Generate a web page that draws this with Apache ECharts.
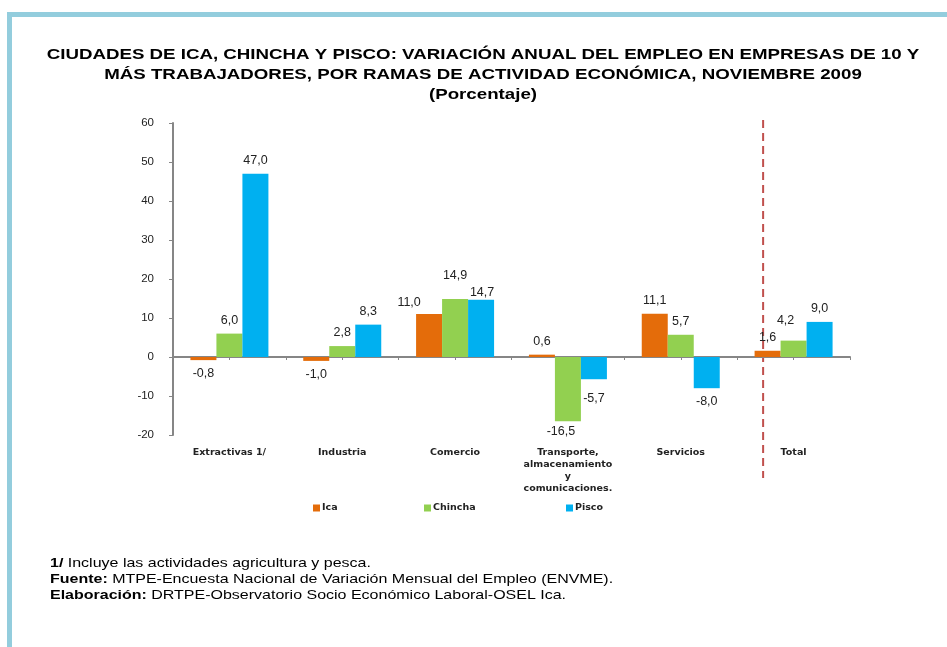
<!DOCTYPE html>
<html>
<head>
<meta charset="utf-8">
<script src="https://cdn.jsdelivr.net/npm/echarts@6/dist/echarts.min.js"></script>
<style>
  html, body { margin: 0; padding: 0; background: #fff; }
  #empleo-chart { width: 947px; height: 647px; }
</style>
</head>
<body>
<div id="empleo-chart"></div>
<script>
// data
const categories = ['Extractivas 1/', 'Industria', 'Comercio',
  'Transporte,\nalmacenamiento\ny\ncomunicaciones.', 'Servicios', 'Total'];
const icaValues = [-0.8, -1.0, 11.0, 0.6, 11.1, 1.6];
const chinchaValues = [6.0, 2.8, 14.9, -16.5, 5.7, 4.2];
const piscoValues = [47.0, 8.3, 14.7, -5.7, -8.0, 9.0];
const yTicks = { min: -20, max: 60, step: 10 };
const totalDivider = 5.23; // position of the dashed separator, in category units

// label nudges copied from the original layout (Excel placed a few by hand)
const labelNudge = {
  Ica: { 2: [-20, 2] },
  Chincha: { 2: [0, -10], 3: [-7, -3], 5: [-8, -7] },
  Pisco: { 2: [1, 6], 3: [0, 6] }
};

const colors = { Ica: '#E46C0A', Chincha: '#92D050', Pisco: '#00B0F0' };
const axisGray = '#868686';
const smallFont = 'DejaVu Sans, Verdana, sans-serif';

const chartDom = document.getElementById('empleo-chart');
const myChart = echarts.init(chartDom);

function buildSeries(name, values) {
  return {
    name: name,
    type: 'bar',
    xAxisIndex: 0,
    barWidth: 26,
    barGap: 0,
    itemStyle: { color: colors[name] },
    data: values.map(function (v, i) {
      const nudge = (labelNudge[name] || {})[i];
      return {
        value: v,
        label: {
          position: v < 0 ? 'bottom' : 'top',
          offset: nudge || [0, 0]
        }
      };
    }),
    label: {
      show: true,
      distance: 7,
      color: '#222',
      fontSize: 12.5,
      fontFamily: 'Liberation Sans, Arial, sans-serif',
      formatter: function (p) {
        return p.value.toFixed(1).replace('.', ',');
      }
    }
  };
}

function legendAt(name, left) {
  return {
    data: [name],
    left: left,
    top: 503,
    padding: 0,
    icon: 'rect',
    itemWidth: 7,
    itemHeight: 7,
    textStyle: {
      fontSize: 9.5,
      fontWeight: 'bold',
      color: '#222',
      fontFamily: smallFont,
      padding: [0, 0, 0, -3]
    }
  };
}

const option = {
  animation: false,
  textStyle: { fontFamily: 'Liberation Sans, Arial, sans-serif' },
  grid: { left: 173, right: 97, top: 123, bottom: 212, containLabel: false },
  legend: [
    legendAt('Ica', 313),
    legendAt('Chincha', 424),
    legendAt('Pisco', 566)
  ],
  xAxis: [
    {
      type: 'category',
      data: categories,
      position: 'bottom',
      axisLine: { show: false, onZero: false },
      axisTick: { show: false },
      axisLabel: {
        margin: 12,
        fontSize: 9.5,
        fontWeight: 'bold',
        fontFamily: smallFont,
        color: '#222',
        lineHeight: 12,
        interval: 0
      }
    },
    {
      type: 'value',
      min: 0,
      max: 6,
      interval: 0.5,
      position: 'bottom',
      axisLine: { show: true, onZero: true, lineStyle: { color: axisGray, width: 2 } },
      axisTick: { show: true, length: 3, lineStyle: { color: axisGray, width: 1 } },
      axisLabel: { show: false },
      splitLine: { show: false }
    }
  ],
  yAxis: {
    type: 'value',
    min: yTicks.min,
    max: yTicks.max,
    interval: yTicks.step,
    axisLine: { show: true, lineStyle: { color: axisGray, width: 2 } },
    axisTick: { show: true, length: 4, lineStyle: { color: axisGray, width: 1 } },
    axisLabel: { margin: 19, fontSize: 11.5, color: '#222' },
    splitLine: { show: false }
  },
  series: [
    buildSeries('Ica', icaValues),
    buildSeries('Chincha', chinchaValues),
    buildSeries('Pisco', piscoValues)
  ],
  graphic: [
    // light blue frame, top and left edges
    { type: 'rect', shape: { x: 7, y: 12, width: 940, height: 5 }, style: { fill: '#93CDDD' }, silent: true },
    { type: 'rect', shape: { x: 7, y: 12, width: 5, height: 635 }, style: { fill: '#93CDDD' }, silent: true },
    {
      type: 'text',
      x: 483,
      y: 45,
      scaleX: 1.247,
      style: {
        text: 'CIUDADES DE ICA, CHINCHA Y PISCO: VARIACIÓN ANUAL DEL EMPLEO EN EMPRESAS DE 10 Y\n' +
          'MÁS TRABAJADORES, POR RAMAS DE ACTIVIDAD ECONÓMICA, NOVIEMBRE 2009\n(Porcentaje)',
        font: 'bold 15px "Liberation Sans", Arial, sans-serif',
        lineHeight: 20,
        textAlign: 'center',
        fill: '#000'
      }
    },
    {
      type: 'text',
      x: 50,
      y: 555,
      scaleX: 1.23,
      style: {
        text: '{b|1/} Incluye las actividades agricultura y pesca.\n' +
          '{b|Fuente:} MTPE-Encuesta Nacional de Variación Mensual del Empleo (ENVME).\n' +
          '{b|Elaboración:} DRTPE-Observatorio Socio Económico Laboral-OSEL Ica.',
        fontSize: 13,
        fontFamily: 'Liberation Sans, Arial, sans-serif',
        lineHeight: 16,
        fill: '#000',
        rich: {
          b: { fontWeight: 'bold', fontSize: 13, lineHeight: 16 }
        }
      }
    }
  ]
};

myChart.setOption(option);

// dashed separator before "Total", placed through the axis scales
const dividerX = myChart.convertToPixel({ xAxisIndex: 1 }, totalDivider);
const dividerTop = myChart.convertToPixel({ yAxisIndex: 0 }, yTicks.max) - 3;
const dividerBottom = myChart.convertToPixel({ yAxisIndex: 0 }, yTicks.min) + 43;
myChart.setOption({
  graphic: option.graphic.concat([{
    type: 'line',
    shape: { x1: dividerX, y1: dividerTop, x2: dividerX, y2: dividerBottom },
    style: { stroke: '#C0504D', lineWidth: 2, lineDash: [8, 5] },
    silent: true
  }])
});

window.addEventListener('resize', function () {
  myChart.resize();
});
</script>
</body>
</html>
